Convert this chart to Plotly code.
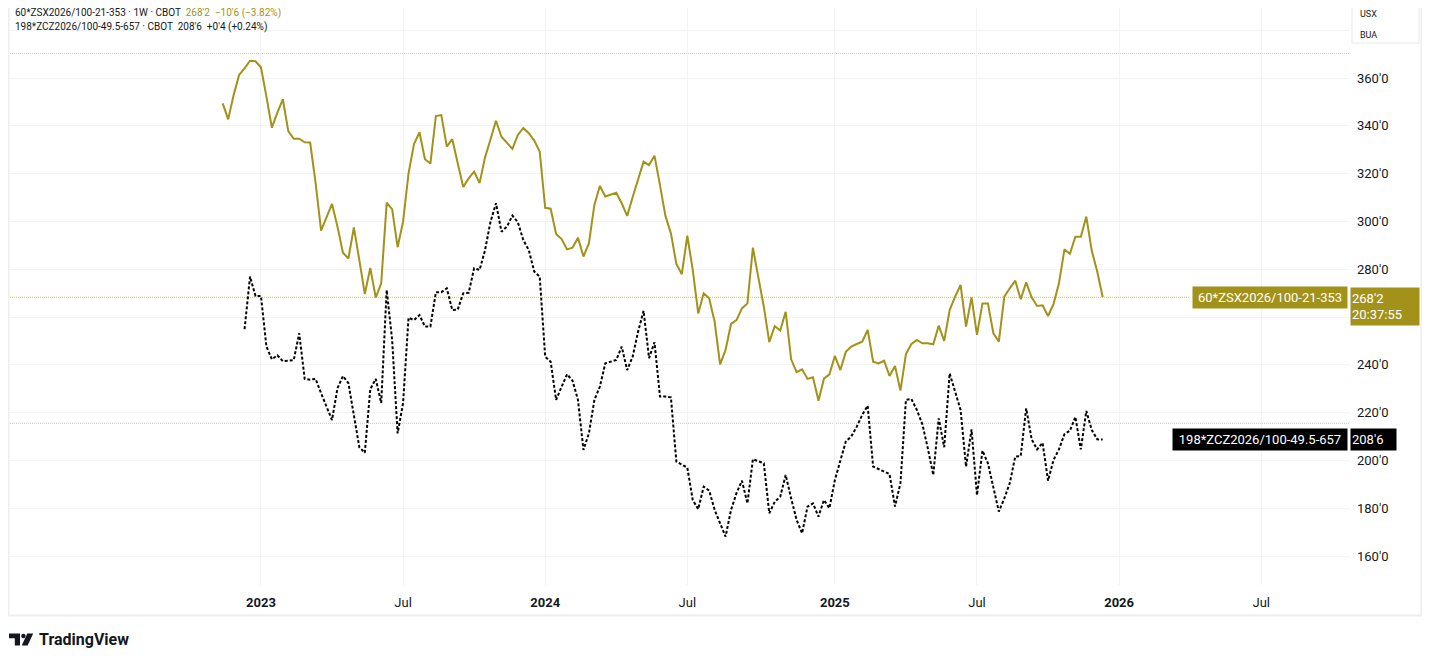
import pandas as pd
import plotly.graph_objects as go

# ---------------- data ----------------
start_week = "2022-11-14"
n_weeks = 162
dates = pd.date_range(start=start_week, periods=n_weeks, freq="7D")

zsx_values = [
    349.4, 342.7, 352.9, 361.3, 364, 367.2, 367, 364.5, 352.2, 339.2,
    345.5, 351.1, 337.8, 334.6, 334.6, 333.1, 333, 316, 296.1, 302,
    307.3, 297.8, 286.9, 284.5, 297.5, 283.8, 269.6, 280.5, 268.1, 274.1,
    307.8, 305.1, 289.2, 299.9, 320.1, 332.4, 337.3, 326, 324.2, 344.1,
    344.5, 331.3, 334.4, 324.3, 314.4, 318, 320.8, 316, 326.8, 334.4,
    342.1, 335.4, 332.7, 330.3, 336.2, 339.1, 336.9, 333.8, 329.2, 305.7,
    305.3,
    294.7, 292.6, 288.3, 289, 293.2, 285.3, 290.8, 306.9, 314.8, 310.4,
    311.1, 312, 307.6, 302.3, 310.1, 318, 325, 323.6, 327.5, 315.2,
    302.3, 295, 282.2, 277.9, 294, 279.7, 261.5, 269.9, 267.8, 258,
    240.2, 246.2, 257.1, 258.7, 263.6, 265.7, 289, 276.6, 264.3, 249.5,
    256.2, 254.3, 262.2, 242.3, 236.9, 238.1, 234.1, 234.8, 225, 234.2,
    236,
    243.7, 237.8, 245.4, 247.6, 248.7, 249.7, 254.6, 241.3, 240.6, 241.7,
    235.3, 239.5, 229.2, 244.5, 248.7, 250.4, 249, 249, 248.6, 256.4,
    250, 262.9, 268.5, 273.4, 256, 268.2, 252.5, 265.7, 265.7, 253.2,
    249.7, 268.5, 272, 275.2, 267.4, 274.5, 268.2, 264.6, 264.9, 260.4,
    265.4, 274.1, 288.3, 286.4, 293.6, 293.6, 302, 287.7, 279, 268.25,
]

zcz_start_index = 4
zcz_values = [
    254.9, 276.9, 268.8, 268.8, 247.6, 242.3, 244, 241.5, 241.7, 242,
    253.2, 234.1, 233.8, 234.1, 228.1, 222.5, 216.9, 230.2, 235.3, 232.3,
    218.6, 205.5, 203.2, 229.8, 234.1, 224, 271.3, 250.4, 211.3, 224,
    259.7, 258.7, 260.8, 256, 256, 270.3, 270.4, 272, 262.9, 263.1,
    269.9, 270.1, 280.4, 279.7, 288, 299.9, 307.6, 295.7, 297.8, 302.4,
    299.6, 292.2, 288, 279, 276.9, 243.4, 241.3,
    225.3, 230.8, 236, 233.4, 225.3, 204.4, 211.3, 225.3, 230.8, 240.6,
    241.3, 242, 247.6, 237.8, 243.4, 253.9, 262.6, 242.8, 249.4, 226.7,
    226.7, 226.4, 199.5, 198.1, 197, 183.4, 179.6, 189, 187.4, 179.3,
    173.7, 168.1, 179.3, 186.3, 191.5, 182, 200.5, 199.5, 198.8, 177.9,
    182.7, 184.8, 193.9, 184.1, 175.1, 169.5, 180.7, 182, 176.5, 183.4,
    180,
    191.8, 200.2, 207.9, 210, 214.1, 219, 222.9, 197.4, 196.3, 195.3,
    194.3, 180.7, 190.5, 225.3, 225.7, 221.1, 215.2, 205.1, 193.9, 217.6,
    205.5, 236.4, 228.8, 221.1, 197.4, 213, 185.5, 204.1, 198.8, 189,
    178.6, 184.1, 190.5, 201.6, 201.8, 221.8, 208.8, 204.6, 207.4, 191.5,
    200.2, 204.6, 211, 212.4, 218.2, 204.6, 220.7, 212.7, 208.8, 208.75,
]

x_tick_dates = ["2023-01-02", "2023-07-03", "2024-01-01", "2024-07-01",
                "2025-01-06", "2025-07-07", "2026-01-05", "2026-07-06"]
x_tick_labels = ["<b>2023</b>", "Jul", "<b>2024</b>", "Jul",
                 "<b>2025</b>", "Jul", "<b>2026</b>", "Jul"]

y_tick_values = [160, 180, 200, 220, 240, 260, 280, 300, 320, 340, 360, 380]
y_tick_labels = ["160'0", "180'0", "200'0", "220'0", "240'0", "", "280'0",
                 "300'0", "320'0", "340'0", "360'0", ""]

zsx_name = "60*ZSX2026/100-21-353"
zcz_name = "198*ZCZ2026/100-49.5-657"
zsx_last_label = "268'2"
zcz_last_label = "208'6"
countdown = "20:37:55"
zsx_change = "268'2  \u221210'6 (\u22123.82%)"
zcz_change = "208'6  +0'4 (+0.24%)"
ref_line_values = [370.25, 215.5]

# ---------------- layout constants (page pixel coordinates) ----------------
OX, OY = 8, 8                 # page offset of the figure (body margin)
W, H = 1430 - OX, 666 - OY
PL, PR, PT, PB = 8, 1349, 8, 585
PX_PER_UNIT = 2.39
Y_AT_360 = 78.0
GOLD = "#A3921A"
TXT = "#131722"
GRID = "#F2F3F5"
FONT = "Roboto"

def px(xp):
    return (xp - PL) / (PR - PL)

def py(yp):
    return (PB - yp) / (PB - PT)

y_top = 360 + (Y_AT_360 - PT) / PX_PER_UNIT
y_bot = 360 - (PB - Y_AT_360) / PX_PER_UNIT

# x range: week index 0 at pixel 222.7, 161 weeks over 880 px
px_per_day = 880.0 / (161 * 7)
d0 = pd.Timestamp(start_week)
x_start = d0 - pd.Timedelta(days=(222.7 - PL) / px_per_day)
x_end = d0 + pd.Timedelta(days=(PR - 222.7) / px_per_day)

fig = go.Figure()
fig.add_trace(go.Scatter(
    x=dates[zcz_start_index:], y=zcz_values, mode="lines",
    line=dict(color="#000000", width=2, dash="3px,2px"),
    hoverinfo="skip", showlegend=False))
fig.add_trace(go.Scatter(
    x=dates, y=zsx_values, mode="lines",
    line=dict(color=GOLD, width=2),
    hoverinfo="skip", showlegend=False))

shapes = []
for v in ref_line_values:
    shapes.append(dict(type="line", xref="paper", yref="y", x0=0, x1=1, y0=v, y1=v,
                       line=dict(color="#C9CCD3", width=1, dash="1px,1px"), layer="below"))
shapes.append(dict(type="line", xref="paper", yref="y", x0=0, x1=px(1190),
                   y0=zsx_values[-1], y1=zsx_values[-1], opacity=0.75,
                   line=dict(color="#C2B030", width=1, dash="1px,1px"), layer="below"))
# frame
shapes.append(dict(type="rect", xref="paper", yref="paper",
                   x0=px(8.5), x1=px(1421.5), y0=py(615.5), y1=py(-3),
                   line=dict(color="#EEEEEE", width=2)))
# unit box
shapes.append(dict(type="rect", xref="paper", yref="paper",
                   x0=px(1352), x1=px(1419), y0=py(43), y1=py(4),
                   line=dict(color="#E6E8EC", width=1), fillcolor="white"))

# TradingView logo
def path_px(points):
    s = ""
    for i, (a, b) in enumerate(points):
        s += ("M" if i == 0 else "L") + f"{px(a):.5f},{py(b):.5f} "
    return s + "Z"

shapes.append(dict(type="path", xref="paper", yref="paper",
                   path=path_px([(9, 633.5), (20, 633.5), (20, 645.5), (14.8, 645.5),
                                 (14.8, 638.3), (9, 638.3)]),
                   fillcolor=TXT, line=dict(width=0)))
shapes.append(dict(type="circle", xref="paper", yref="paper",
                   x0=px(21.2), x1=px(25.6), y0=py(638.2), y1=py(633.8),
                   fillcolor=TXT, line=dict(width=0)))
shapes.append(dict(type="path", xref="paper", yref="paper",
                   path=path_px([(27.3, 633.5), (33.2, 633.5), (27.6, 645.5), (21.7, 645.5)]),
                   fillcolor=TXT, line=dict(width=0)))

annotations = []
annotations.append(dict(xref="paper", yref="paper", x=px(13), y=py(13),
                        xanchor="left", yanchor="middle", showarrow=False,
                        text=f"{zsx_name} \u00b7 1W \u00b7 CBOT  <span style='color:{GOLD}'>{zsx_change}</span>",
                        font=dict(family=FONT, size=10, color=TXT)))
annotations.append(dict(xref="paper", yref="paper", x=px(13), y=py(27),
                        xanchor="left", yanchor="middle", showarrow=False,
                        text=f"{zcz_name} \u00b7 CBOT  {zcz_change}",
                        font=dict(family=FONT, size=10, color=TXT)))
annotations.append(dict(xref="paper", yref="paper", x=px(1358), y=py(14),
                        xanchor="left", yanchor="middle", showarrow=False,
                        text="USX", font=dict(family=FONT, size=9, color=TXT)))
annotations.append(dict(xref="paper", yref="paper", x=px(1358), y=py(35),
                        xanchor="left", yanchor="middle", showarrow=False,
                        text="BUA", font=dict(family=FONT, size=9, color=TXT)))
annotations.append(dict(xref="paper", yref="y", x=px(1348.3), y=zsx_values[-1],
                        xanchor="right", yanchor="middle", showarrow=False,
                        text=zsx_name, bgcolor=GOLD, width=152, height=19,
                        borderpad=1, align="center",
                        font=dict(family=FONT, size=13, color="white")))
annotations.append(dict(xref="paper", yref="y", x=px(1348.3), y=zcz_values[-1],
                        xanchor="right", yanchor="middle", showarrow=False,
                        text=zcz_name, bgcolor="#000000", width=172, height=19,
                        borderpad=1, align="center",
                        font=dict(family=FONT, size=13, color="white")))
annotations.append(dict(xref="paper", yref="paper", x=px(1350), y=py(287.3),
                        xanchor="left", yanchor="top", showarrow=False,
                        text=f"{zsx_last_label}<br>{countdown}", bgcolor=GOLD,
                        width=66, height=35, borderpad=1, align="left", valign="middle",
                        font=dict(family=FONT, size=13, color="white")))
annotations.append(dict(xref="paper", yref="y", x=px(1350), y=zcz_values[-1],
                        xanchor="left", yanchor="middle", showarrow=False,
                        text=zcz_last_label, bgcolor="#000000",
                        width=43, height=19, borderpad=1, align="left",
                        font=dict(family=FONT, size=13, color="white")))
annotations.append(dict(xref="paper", yref="paper", x=px(37), y=py(639.5),
                        xanchor="left", yanchor="middle", showarrow=False,
                        text="<b>TradingView</b>",
                        font=dict(family=FONT, size=16, color=TXT)))

fig.update_layout(
    width=W, height=H,
    margin=dict(l=PL - OX, r=(OX + W) - PR, t=PT - OY, b=(OY + H) - PB, pad=0),
    paper_bgcolor="white", plot_bgcolor="white",
    showlegend=False,
    shapes=shapes, annotations=annotations,
    xaxis=dict(type="date", range=[x_start, x_end], tickmode="array",
               tickvals=x_tick_dates, ticktext=x_tick_labels,
               showgrid=True, gridcolor=GRID, gridwidth=1, zeroline=False,
               showline=False, ticks="", ticklabelstandoff=8,
               tickfont=dict(family=FONT, size=13, color=TXT)),
    yaxis=dict(side="right", range=[y_bot, y_top], tickmode="array",
               tickvals=y_tick_values, ticktext=y_tick_labels,
               showgrid=True, gridcolor=GRID, gridwidth=1, zeroline=False,
               showline=False, ticks="", ticklabelstandoff=7,
               tickfont=dict(family=FONT, size=13, color=TXT)),
)

fig.write_html("out.html")
